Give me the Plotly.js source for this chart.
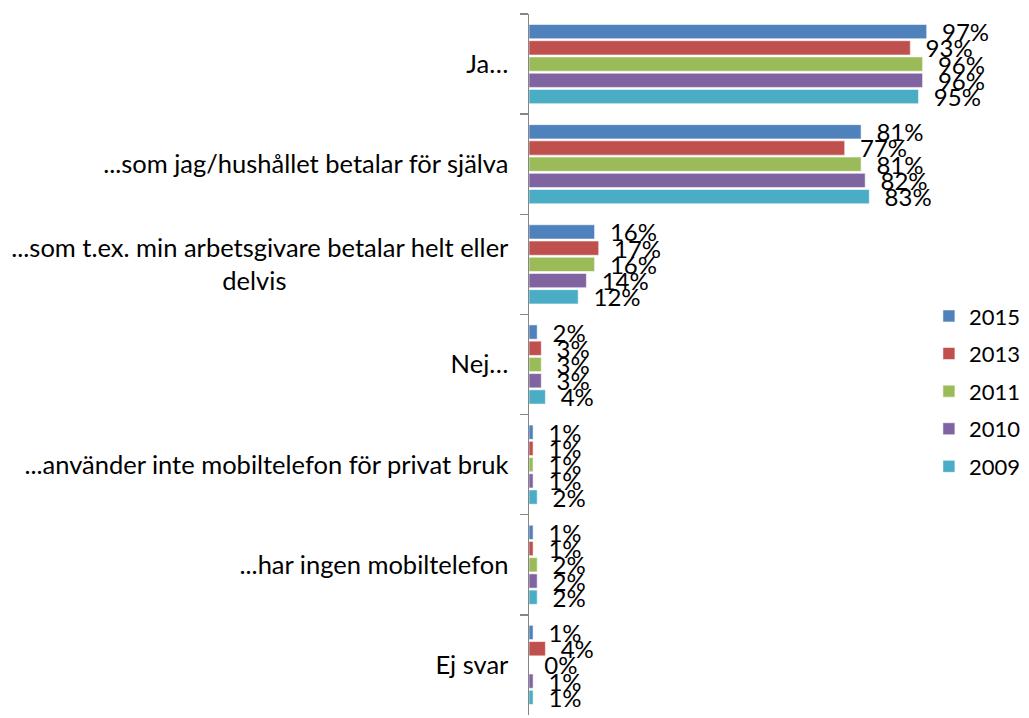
<!DOCTYPE html>
<html>
<head>
<meta charset="utf-8">
<script src="https://cdn.plot.ly/plotly-3.0.1.min.js"></script>
<style>
  body { margin: 0; background: #fff; }
  #plot { width: 1029px; height: 718px; }
</style>
</head>
<body>
<div id="plot"></div>
<script>
// kategorier, uppifrån och ned
var categories = [
  "Ja…",
  "...som jag/hushållet betalar för själva",
  "...som t.ex. min arbetsgivare betalar helt eller<br>delvis" + "\u00a0".repeat(34),
  "Nej…",
  "...använder inte mobiltelefon för privat bruk",
  "...har ingen mobiltelefon",
  "Ej svar"
];

var years = ["2015", "2013", "2011", "2010", "2009"];
var colors = ["#4F81BD", "#C0504D", "#9BBB59", "#8064A2", "#4BACC6"];

var v2015 = [97, 81, 16, 2, 1, 1, 1];
var v2013 = [93, 77, 17, 3, 1, 1, 4];
var v2011 = [96, 81, 16, 3, 1, 2, 0];
var v2010 = [96, 82, 14, 3, 1, 2, 1];
var v2009 = [95, 83, 12, 4, 2, 2, 1];

var series = [v2015, v2013, v2011, v2010, v2009];

var font = "Lato, 'Open Sans', sans-serif";

var data = series.map(function(vals, i) {
  return {
    type: "bar",
    orientation: "h",
    name: years[i],
    legendgroup: years[i],
    x: vals,
    y: categories,
    marker: {
      color: colors[i],
      line: { color: "rgba(255,255,255,0.55)", width: 1 }
    },
    texttemplate: "\u00a0\u00a0%{x}%",
    textposition: "outside",
    constraintext: "none",
    cliponaxis: false,
    textfont: { family: font, size: 24, color: "#000" },
    hoverinfo: "x+name"
  };
});

var layout = {
  width: 1029,
  height: 718,
  margin: { l: 529, r: 90, t: 14, b: 3 },
  paper_bgcolor: "#fff",
  plot_bgcolor: "#fff",
  font: { family: font, size: 24, color: "#000" },
  barmode: "group",
  bargap: 0.19,
  bargroupgap: 0.12,
  xaxis: {
    range: [0, 100],
    visible: false,
    fixedrange: true
  },
  yaxis: {
    autorange: "reversed",
    showline: true,
    linecolor: "#868686",
    linewidth: 1.5,
    ticks: "outside",
    tickson: "boundaries",
    ticklen: 8,
    tickwidth: 1.5,
    tickcolor: "#868686",
    ticklabelstandoff: 14,
    showgrid: false,
    zeroline: false,
    tickfont: { family: font, size: 25.5, color: "#000" }
  },
  legend: {
    x: 1.212,
    xanchor: "right",
    y: 0.462,
    yanchor: "middle",
    bgcolor: "rgba(0,0,0,0)",
    tracegroupgap: 6,
    font: { family: font, size: 22, color: "#000" }
  },
  showlegend: true
};

Plotly.newPlot("plot", data, layout, { displayModeBar: false, staticPlot: true });
</script>
</body>
</html>
